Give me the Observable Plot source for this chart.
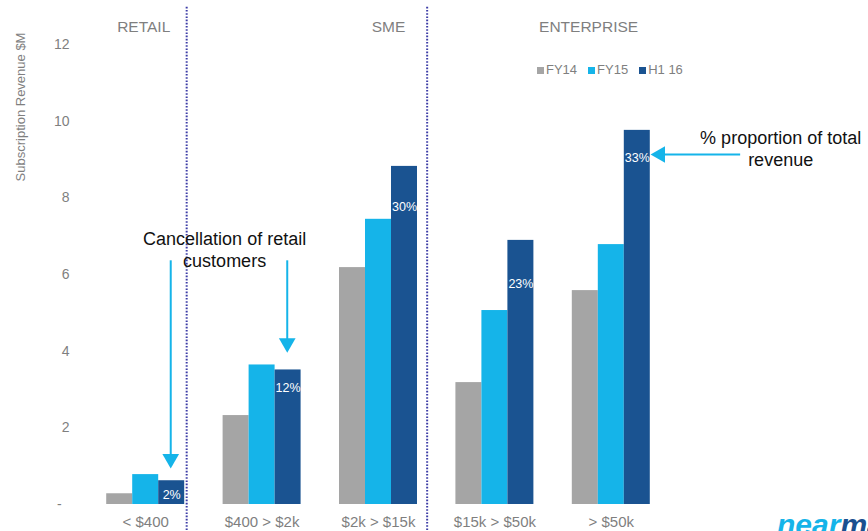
<!DOCTYPE html>
<html><head><meta charset="utf-8">
<script src="https://cdn.jsdelivr.net/npm/d3@7"></script>
<script src="https://cdn.jsdelivr.net/npm/@observablehq/plot@0.6"></script>
<style>
html,body{margin:0;padding:0;background:#fff;overflow:hidden}
#wrap{position:relative;width:868px;height:531px;overflow:hidden;font-family:"Liberation Sans",Arial,sans-serif}
#legend{position:absolute;left:537px;top:63px;display:flex;align-items:center;font-size:13px;color:#7f7f7f;line-height:14px;white-space:nowrap}
#legend .item{display:flex;align-items:center;margin-right:11px}
#legend .sw{width:7px;height:7px;margin-right:2px}
#logo{position:absolute;left:777px;top:510px;font-size:30px;line-height:30px;font-weight:bold;font-style:italic;white-space:nowrap}
</style></head><body><div id="wrap"></div>
<script>
// ---- data ----
const categories = ["< $400", "$400 > $2k", "$2k > $15k", "$15k > $50k", "> $50k"];
const series = ["FY14", "FY15", "H1 16"];
const fy14 = [0.28, 2.32, 6.18, 3.18, 5.58];
const fy15 = [0.78, 3.64, 7.44, 5.06, 6.78];
const h116 = [0.62, 3.51, 8.82, 6.89, 9.76];
const shareLabels = ["2%", "12%", "30%", "23%", "33%"];
const yTicks = [0, 2, 4, 6, 8, 10, 12];
const segments = ["RETAIL", "SME", "ENTERPRISE"];
const colors = ["#a5a5a5", "#15b4e9", "#1a5391"];

// annotation placement (data units)
const shareLabelY = [0.26, 3.04, 7.77, 5.74, 9.03];
const segmentX = [-0.017, 2.086, 3.805];
const segmentY = 12.46;
const dividers = [{x: 0.352, y1: 12.97, y2: -0.72}, {x: 2.418, y1: 12.97, y2: -0.72}];
const shafts = [
  {x1: 0.215, y1: 6.37, x2: 0.215, y2: 1.3},
  {x1: 1.216, y1: 6.37, x2: 1.216, y2: 4.3},
  {x1: 5.107, y1: 9.13, x2: 4.45, y2: 9.13}
];
const heads = [
  {x: 0.215, y: 1.19, rotate: 180},
  {x: 1.216, y: 4.21, rotate: 180},
  {x: 4.42, y: 9.13, rotate: -90}
];
const notes = [
  {x: 0.678, y: 6.67, text: "Cancellation of retail\ncustomers"},
  {x: 5.455, y: 9.30, text: "% proportion of total\nrevenue"}
];
const yLabel = [{x: -1.073, y: 10.37, text: "Subscription Revenue $M"}];

// ---- build ----
const values = [fy14, fy15, h116];
const rows = categories.flatMap((c, i) => series.map((s, j) => ({category: c, i, series: s, j, value: values[j][i]})));
const groupW = 0.67, barW = groupW / 3;
const barX1 = (i, j) => i - groupW / 2 + j * barW;
const labels = categories.map((c, i) => ({x: barX1(i, 2) + barW / 2, y: shareLabelY[i], text: shareLabels[i]}));
const heads2 = segments.map((s, k) => ({x: segmentX[k], y: segmentY, text: s}));
const gray = "#7f7f7f";
const arrowColor = "#15b4e9";

const chart = Plot.plot({
  width: 868,
  height: 531,
  marginLeft: 87,
  marginRight: 199,
  marginTop: 44,
  marginBottom: 27,
  style: {fontFamily: '"Liberation Sans", Arial, sans-serif', background: "#fff", overflow: "visible"},
  x: {type: "linear", domain: [-0.5, 4.5]},
  y: {domain: [0, 12], label: null},
  color: {domain: series, range: colors},
  marks: [
    Plot.axisY({ticks: yTicks, tickSize: 0, tickPadding: 18, fontSize: 14, color: gray, label: null,
      tickFormat: d => d === 0 ? "-\u00a0\u00a0" : String(d)}),
    Plot.axisX({ticks: d3.range(categories.length), tickSize: 0, tickPadding: 12, fontSize: 15, color: gray, label: null,
      tickFormat: i => categories[i]}),
    Plot.rectY(rows, {x1: d => barX1(d.i, d.j), x2: d => barX1(d.i, d.j) + barW, y1: 0, y2: "value", fill: "series"}),
    Plot.text(labels, {x: "x", y: "y", text: "text", fill: "white", fontSize: 12.5}),
    Plot.ruleX(dividers, {x: "x", y1: "y1", y2: "y2", stroke: "#3c3ca6", strokeWidth: 2, strokeDasharray: "1.6,1.6"}),
    Plot.text(heads2, {x: "x", y: "y", text: "text", fill: gray, fontSize: 15.5}),
    Plot.text(yLabel, {x: "x", y: "y", text: "text", rotate: -90, fill: gray, fontSize: 13}),
    Plot.link(shafts, {x1: "x1", y1: "y1", x2: "x2", y2: "y2", stroke: arrowColor, strokeWidth: 2}),
    Plot.dot(heads, {x: "x", y: "y", rotate: "rotate", symbol: "triangle", r: 6.2, fill: arrowColor, stroke: "none"}),
    Plot.text(notes, {x: "x", y: "y", text: "text", fill: "#111", fontSize: 18, lineHeight: 1.23})
  ]
});

const wrap = document.getElementById("wrap");
wrap.appendChild(chart);

const legend = document.createElement("div");
legend.id = "legend";
series.forEach((s, j) => {
  const item = document.createElement("div");
  item.className = "item";
  const sw = document.createElement("div");
  sw.className = "sw";
  sw.style.background = colors[j];
  const t = document.createElement("span");
  t.textContent = s;
  item.appendChild(sw); item.appendChild(t);
  legend.appendChild(item);
});
wrap.appendChild(legend);

const logo = document.createElement("div");
logo.id = "logo";
logo.innerHTML = '<span style="color:#15b4e9">near</span><span style="color:#1a4f8f">map</span>';
wrap.appendChild(logo);
</script></body></html>
